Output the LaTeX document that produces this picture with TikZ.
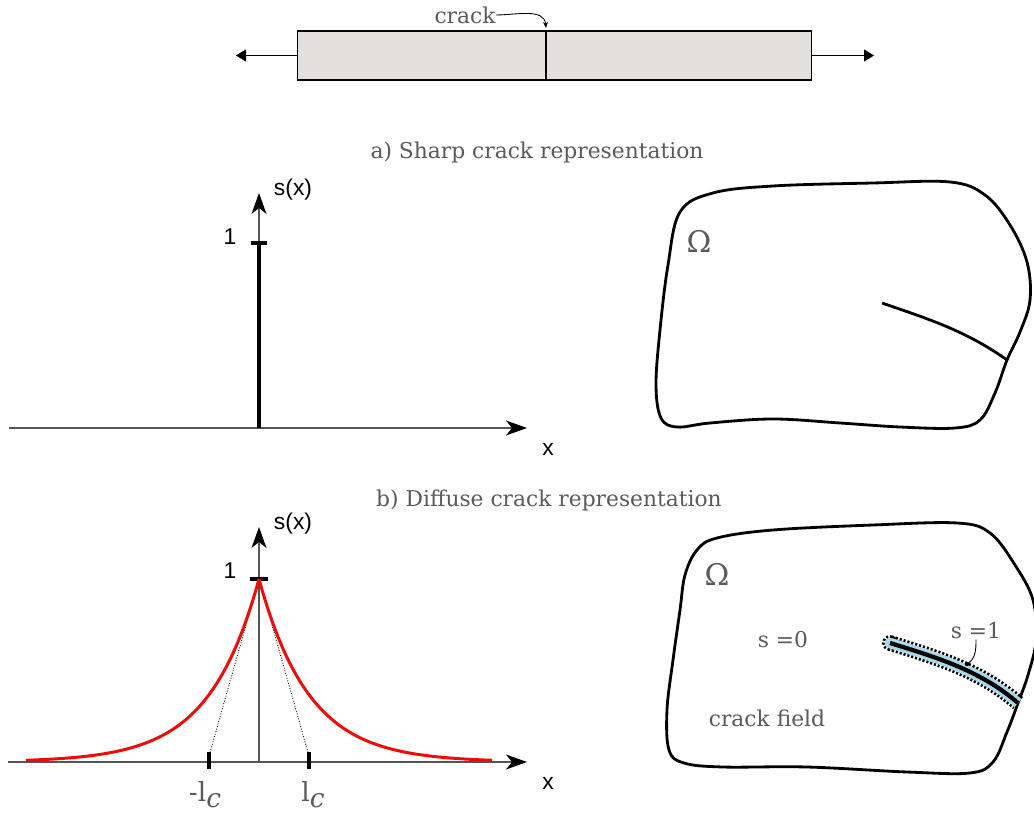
\documentclass[tikz,border=0pt]{standalone}
\usepackage{fontspec}
\setmainfont{DejaVu Serif}
\newfontfamily\labelfont{Liberation Sans}
\usepackage{tikz}
\usetikzlibrary{arrows.meta}
\definecolor{barfill}{RGB}{227,223,220}
\definecolor{txtgray}{RGB}{90,90,90}
\definecolor{axisgray}{RGB}{85,85,85}
\definecolor{bandblue}{RGB}{170,215,230}
\definecolor{curvered}{RGB}{240,10,10}

\begin{document}
\begin{tikzpicture}[x=0.02cm,y=-0.02cm,
  caption/.style={text=txtgray,font=\fontsize{12.4}{14}\selectfont,inner sep=0pt},
  omega/.style={text=txtgray,font=\fontsize{17}{19}\selectfont,inner sep=0pt},
  axlabel/.style={font=\labelfont\fontsize{13}{15}\selectfont,inner sep=0pt},
  axisline/.style={draw=axisgray,line width=0.8pt,-{Stealth[length=0.42cm,width=0.3cm,inset=0.12cm,black]}},
  tickmark/.style={line width=1.8pt},
  boundary/.style={line width=1.6pt},
  dotrim/.style={dash pattern=on 1.2pt off 1.1pt},
  pull/.style={line width=0.6pt,-{Triangle[length=0.2cm,width=0.24cm]}},
  bar/.style={draw,fill=barfill,line width=0.6pt,minimum width=10.3cm,minimum height=0.98cm,inner sep=0pt}
]
\useasboundingbox (0,0) rectangle (1034,813);

% bar under tension
\node[bar] (bar) at (554.5,55.5) {};
\coordinate (ctop) at (546,31);
\coordinate (cbot) at (546,80);
\draw[line width=0.6pt] (ctop) -- (cbot);
\coordinate (pullL) at (236,55.5);
\coordinate (pullR) at (874,55.5);
\draw[pull] (bar.west) -- (pullL);
\draw[pull] (bar.east) -- (pullR);
\node[caption] (crk) at (465,15) {crack};
\coordinate (crtip) at (546,28);
\draw[line width=0.5pt,-{Stealth[length=0.12cm,width=0.1cm]}] (crk.east) to[out=0,in=95] (crtip);

\node[caption] (capa) at (537,152) {a) Sharp crack representation};
\node[caption] (capb) at (549,500) {b) Diffuse crack representation};

% sharp crack profile
\coordinate (xa0) at (9,428);
\coordinate (xa1) at (527,428);
\coordinate (oa) at (259,428);
\coordinate (ya1) at (259,193);
\coordinate (pka) at (259,243);
\draw[axisline] (xa0) -- (xa1);
\draw[axisline] (oa) -- (ya1);
\draw[line width=2pt] (oa) -- (pka);
\draw[tickmark] (251,243) -- (267,243);
\node[axlabel] (onea) at (230,237) {1};
\node[axlabel] (sxa) at (293,190) {s(x)};
\node[axlabel] (xla) at (548,449) {x};

% sharp crack domain
\draw[boundary] plot[smooth cycle,tension=0.6] coordinates {
  (713,193) (773,186) (873,183) (950,182) (985,195) (1010,225) (1027,262)
  (1030,300) (1020,332) (1007,360) (995,393) (980,420) (955,428) (900,427)
  (840,423) (773,419) (710,423) (677,427) (661,418) (656,385) (660,330)
  (668,265) (680,212)};
\coordinate (cu1) at (882,303);
\coordinate (cu2) at (1007,360);
\draw[boundary] (cu1) .. controls (925,318) and (965,330) .. (cu2);
\node[omega] (oma) at (699,241) {Ω};

% diffuse crack profile
\coordinate (xb0) at (8,762);
\coordinate (xb1) at (527,762);
\coordinate (ob) at (259,762);
\coordinate (yb1) at (259,527);
\coordinate (pkb) at (259,579);
\coordinate (lcm) at (209,756);
\coordinate (lcp) at (309,756);
\draw[axisline] (xb0) -- (xb1);
\draw[axisline] (ob) -- (yb1);
\draw[tickmark] (250,579) -- (268,579);
\draw[tickmark] (209,752) -- (209,769);
\draw[tickmark] (309,752) -- (309,769);
\draw[densely dotted,line width=0.5pt] (pkb) -- (lcm);
\draw[densely dotted,line width=0.5pt] (pkb) -- (lcp);
\draw[curvered,line width=1.7pt] plot[domain=26:259,samples=120] (\x,{762-183*exp(-(259-\x)/50)});
\draw[curvered,line width=1.7pt] plot[domain=259:492,samples=120] (\x,{762-183*exp(-(\x-259)/50)});
\node[axlabel] (oneb) at (230,571) {1};
\node[axlabel] (sxb) at (293,524) {s(x)};
\node[axlabel] (xlb) at (548,783) {x};
\node[caption,font=\fontsize{15}{17}\selectfont] (lcmin) at (205,795) {-l\raisebox{-0.45ex}{\itshape c}};
\node[caption,font=\fontsize{15}{17}\selectfont] (lcplus) at (313,795) {l\raisebox{-0.45ex}{\itshape c}};

% diffuse crack domain
\draw[boundary] plot[smooth cycle,tension=0.6] coordinates {
  (717,538) (773,530) (873,525) (957,523) (990,533) (1015,565) (1033,600)
  (1036,640) (1028,675) (1018,703) (1007,732) (993,762) (970,773) (907,772)
  (807,767) (723,767) (684,763) (669,750) (667,710) (673,660) (680,610)
  (685,575) (697,550)};
\coordinate (cl1) at (890,643);
\coordinate (cl2) at (1018,703);
\draw[dotrim,line width=1.5pt] (cl1) circle[radius=3.75pt];
\draw[dotrim,line width=9pt] (cl1) .. controls (935,657) and (980,670) .. (cl2);
\fill[bandblue] (cl1) circle[radius=3pt];
\draw[bandblue,line width=6pt] (cl1) .. controls (935,657) and (980,670) .. (cl2);
\draw[line width=2.4pt] (cl1) .. controls (935,657) and (980,670) .. (cl2);
\node[omega] (omb) at (717,574) {Ω};
\node[caption] (szero) at (783,640) {s =0};
\node[caption] (sone) at (976,631) {s =1};
\node[caption] (fld) at (767,718) {crack field};
\coordinate (hit) at (967,664);
\draw[line width=0.5pt] (sone.south) to[out=-90,in=30] (hit);
\fill (hit) circle (2.2);
\end{tikzpicture}
\end{document}
